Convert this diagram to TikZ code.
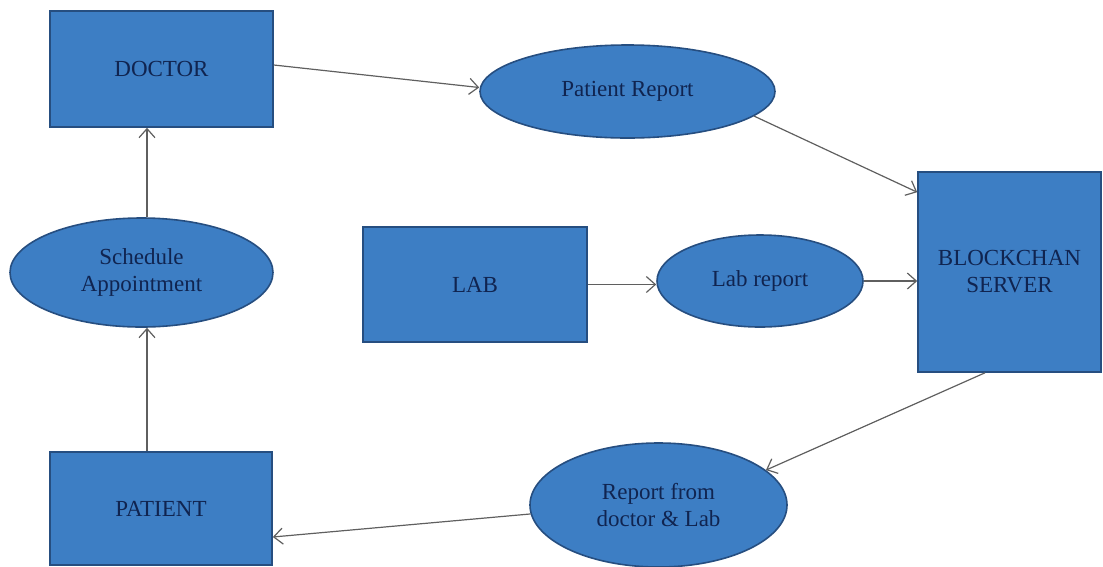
\documentclass[tikz,border=0pt]{standalone}
\usepackage{fontspec}
\setmainfont{Liberation Serif}
\usetikzlibrary{shapes.geometric,arrows.meta}
\definecolor{boxfill}{RGB}{61,126,196}
\definecolor{boxline}{RGB}{38,78,128}
\definecolor{boxtext}{RGB}{16,36,80}
\definecolor{wire}{RGB}{95,95,95}
\tikzset{
  entity/.style={rectangle, draw=boxline, fill=boxfill, line width=1.6pt,
    text=boxtext, font=\fontsize{23}{27}\selectfont, align=center, inner sep=0pt},
  process/.style={ellipse, draw=boxline, fill=boxfill, line width=1.6pt,
    text=boxtext, font=\fontsize{23}{27}\selectfont, align=center, inner sep=0pt},
  flow/.style={draw=wire, line width=1.2pt,
    -{Straight Barb[length=9pt,width=16pt,line width=1.2pt]}}
}
\begin{document}
\begin{tikzpicture}[x=1pt,y=-1pt]
\useasboundingbox (0,0) rectangle (1103,566);

% actors
\node[entity, minimum width=223pt, minimum height=116pt] (doc) at (161.5,69) {DOCTOR};
\node[entity, minimum width=224pt, minimum height=115pt] (lab) at (475,284.5) {LAB};
\node[entity, minimum width=222pt, minimum height=113pt] (pat) at (161,508.5) {PATIENT};
\node[entity, minimum width=183pt, minimum height=200pt] (bc) at (1009.5,272) {BLOCKCHAN\\SERVER};

% data flows
\node[process, minimum width=295pt, minimum height=93pt] (prep) at (627.5,91.5) {Patient Report};
\node[process, minimum width=206pt, minimum height=92pt] (lr) at (760,281) {Lab report};
\node[process, minimum width=263pt, minimum height=109pt] (sch) at (141.5,272.5) {Schedule\\Appointment};
\node[process, minimum width=257pt, minimum height=124pt] (rep) at (658.5,505) {Report from\\doctor \& Lab};

% connectors
\draw[flow] ([yshift=4pt]doc.east) -- ([yshift=4pt]prep.west);
\draw[flow] (prep.-11) -- ([yshift=-21pt]bc.north west);
\draw[flow] (lab.east) -- (lab.east -| lr.west);
\draw[flow] (lr.east) -- (lr.east -| bc.west);
\draw[flow] ([xshift=-24.5pt]bc.south) -- (rep.18);
\draw[flow] (rep.184) -- ([yshift=-28.5pt]pat.east);
\draw[flow] ([xshift=5.5pt]sch.south |- pat.north) -- ([xshift=5.5pt]sch.south);
\draw[flow] ([xshift=5.5pt]sch.north) -- ([xshift=5.5pt]sch.north |- doc.south);
\end{tikzpicture}
\end{document}
